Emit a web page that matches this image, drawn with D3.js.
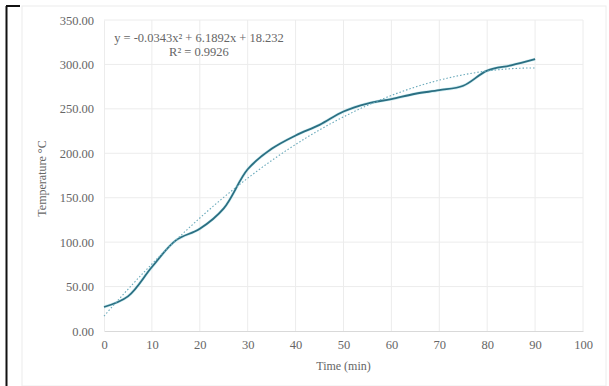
<!DOCTYPE html>
<html>
<head>
<meta charset="utf-8">
<script src="https://cdn.jsdelivr.net/npm/d3@7"></script>
<style>
  body { margin: 0; background: #fff; }
  svg text { font-family: "Liberation Serif", "Times New Roman", serif; fill: #666; }
</style>
</head>
<body>
<script>
// time in minutes and measured temperature
var times = [0, 5, 10, 15, 20, 25, 30, 35, 40, 45, 50, 55, 60, 65, 70, 75, 80, 85, 90];
var temps = [27, 39, 72, 102, 115, 138, 182, 205, 220, 232, 247, 256, 261, 267, 271, 276, 293, 299, 306];

var xTicks = [0, 10, 20, 30, 40, 50, 60, 70, 80, 90, 100];
var yTicks = [0, 50, 100, 150, 200, 250, 300, 350];

var eqLabel = "y = -0.0343x\u00b2 + 6.1892x + 18.232";
var r2Label = "R\u00b2 = 0.9926";

var width = 609, height = 386;
var margin = {left: 104, right: 26, top: 20, bottom: 55};

var svg = d3.select("body").append("svg")
    .attr("width", width)
    .attr("height", height);

// outer chart frame
svg.append("rect")
    .attr("x", 22).attr("y", 6)
    .attr("width", 584).attr("height", 380)
    .attr("fill", "none")
    .attr("stroke", "#ececec");

// black corner marks at the left edge
svg.append("line")
    .attr("x1", 6).attr("y1", 6).attr("x2", 20).attr("y2", 6)
    .attr("stroke", "#111").attr("stroke-width", 2);
svg.append("line")
    .attr("x1", 6.5).attr("y1", 6).attr("x2", 6.5).attr("y2", 386)
    .attr("stroke", "#111").attr("stroke-width", 2);

var x = d3.scaleLinear().domain([0, 100]).range([margin.left, width - margin.right]);
var y = d3.scaleLinear().domain([0, 350]).range([height - margin.bottom, margin.top]);

// gridlines
svg.append("g")
  .selectAll("line.v")
  .data(xTicks.slice(1))
  .join("line")
    .attr("x1", d => x(d)).attr("x2", d => x(d))
    .attr("y1", y(350)).attr("y2", y(0))
    .attr("stroke", "#ececec");

svg.append("g")
  .selectAll("line.h")
  .data(yTicks.slice(1))
  .join("line")
    .attr("x1", x(0)).attr("x2", x(100))
    .attr("y1", d => y(d)).attr("y2", d => y(d))
    .attr("stroke", "#ececec");

// axes
var xAxis = svg.append("g")
    .attr("transform", "translate(0," + y(0) + ")")
    .call(d3.axisBottom(x).tickValues(xTicks).tickSize(0).tickPadding(9));
xAxis.select(".domain").attr("stroke", "#d9d9d9");
xAxis.selectAll("text").style("font-size", "12.5px");

var yAxis = svg.append("g")
    .attr("transform", "translate(" + x(0) + ",0)")
    .call(d3.axisLeft(y).tickValues(yTicks).tickSize(0).tickPadding(10).tickFormat(d3.format(".2f")));
yAxis.select(".domain").attr("stroke", "#ececec");
yAxis.selectAll("text").style("font-size", "12.5px");

// axis titles
svg.append("text")
    .attr("x", (x(0) + x(100)) / 2)
    .attr("y", 370)
    .attr("text-anchor", "middle")
    .style("font-size", "12px")
    .text("Time (min)");

svg.append("text")
    .attr("transform", "translate(46," + (y(175) + 3) + ") rotate(-90)")
    .attr("text-anchor", "middle")
    .style("font-size", "12px")
    .text("Temperature \u00b0C");

// polynomial (order 2) least squares fit, like the spreadsheet trendline
function quadFit(xs, ys) {
  var n = xs.length, s = [0, 0, 0, 0, 0], t = [0, 0, 0];
  for (var i = 0; i < n; i++) {
    var p = 1;
    for (var k = 0; k < 5; k++) { s[k] += p; if (k < 3) t[k] += p * ys[i]; p *= xs[i]; }
  }
  var A = [[s[0], s[1], s[2], t[0]], [s[1], s[2], s[3], t[1]], [s[2], s[3], s[4], t[2]]];
  for (var c = 0; c < 3; c++) {
    for (var r = c + 1; r < 3; r++) {
      var f = A[r][c] / A[c][c];
      for (var j = c; j < 4; j++) A[r][j] -= f * A[c][j];
    }
  }
  var b = [0, 0, 0];
  for (var r2 = 2; r2 >= 0; r2--) {
    var v = A[r2][3];
    for (var j2 = r2 + 1; j2 < 3; j2++) v -= A[r2][j2] * b[j2];
    b[r2] = v / A[r2][r2];
  }
  return b;
}
var coef = quadFit(times, temps);
var fitPts = d3.range(0, 90.5, 1).map(t => [t, coef[0] + coef[1] * t + coef[2] * t * t]);

var data = times.map((t, i) => [t, temps[i]]);

var line = d3.line()
    .x(d => x(d[0]))
    .y(d => y(d[1]))
    .curve(d3.curveCatmullRom.alpha(0.5));

// light halo under the series
svg.append("path")
    .datum(data)
    .attr("d", line)
    .attr("fill", "none")
    .attr("stroke", "#9fdbe6")
    .attr("stroke-width", 3)
    .attr("opacity", 0.5);

svg.append("path")
    .datum(data)
    .attr("d", line)
    .attr("fill", "none")
    .attr("stroke", "#2b6f82")
    .attr("stroke-width", 1.8);

svg.append("path")
    .datum(fitPts)
    .attr("d", d3.line().x(d => x(d[0])).y(d => y(d[1])))
    .attr("fill", "none")
    .attr("stroke", "#6aaabb")
    .attr("stroke-width", 1.1)
    .attr("stroke-dasharray", "1.5,2");

// trendline label
svg.append("text")
    .attr("x", 199).attr("y", 42)
    .attr("text-anchor", "middle")
    .style("font-size", "12.5px")
    .text(eqLabel);
svg.append("text")
    .attr("x", 199).attr("y", 56)
    .attr("text-anchor", "middle")
    .style("font-size", "12.5px")
    .text(r2Label);
</script>
</body>
</html>
